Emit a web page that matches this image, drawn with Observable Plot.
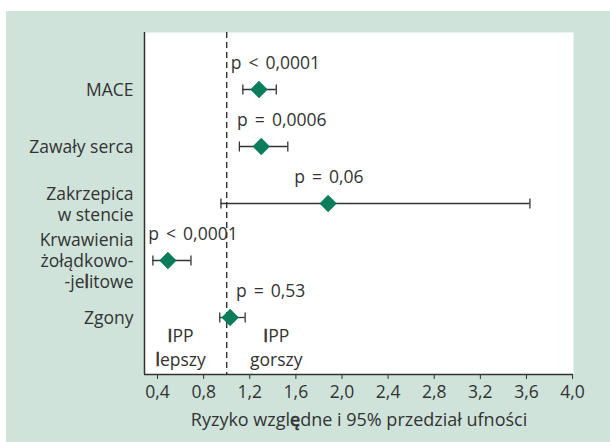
<!DOCTYPE html>
<html>
<head>
<meta charset="utf-8">
<script src="https://cdn.jsdelivr.net/npm/d3@7"></script>
<script src="https://cdn.jsdelivr.net/npm/@observablehq/plot@0.6"></script>
<style>
  html, body { margin: 0; padding: 0; background: #ffffff; }
  #wrap { position: relative; width: 610px; height: 442px; overflow: hidden; }
  #bg { position: absolute; left: 6px; top: 11px; width: 604px; height: 431px; background: #cfe3da; }
  #chart { position: absolute; left: 0; top: 0; }
</style>
</head>
<body>
<div id="wrap"><div id="bg"></div><div id="chart"></div></div>
<script>
// ---- data ----
const categories = ["MACE", "Zawały serca", "Zakrzepica\nw stencie", "Krwawienia\nżołądkowo-\n-jelitowe", "Zgony"];
const riskRatio = [1.28, 1.30, 1.88, 0.49, 1.03];
const ciLow     = [1.14, 1.11, 0.95, 0.36, 0.94];
const ciHigh    = [1.43, 1.53, 3.63, 0.69, 1.16];
const pLabels   = ["p < 0,0001", "p = 0,0006", "p = 0,06", "p < 0,0001", "p = 0,53"];
const pLabelX   = [1.035, 1.09, 1.585, 0.32, 1.08];
const xTicks    = [0.4, 0.8, 1.2, 1.6, 2.0, 2.4, 2.8, 3.2, 3.6, 4.0];
const noteLabels = ["IPP\nlepszy", "IPP\ngorszy"];
const noteX      = [0.6, 1.43];
const axisTitle  = "Ryzyko względne i 95% przedział ufności";
const xDomain = [0.287, 4.008];
const refValue = 1;

const rows = categories.map((c, i) => ({
  cat: c, row: i, rr: riskRatio[i], lo: ciLow[i], hi: ciHigh[i], p: pLabels[i], px: pLabelX[i]
}));
const notes = noteLabels.map((t, i) => ({text: t, x: noteX[i], row: 4.5}));

const capSymbol = {
  draw(ctx, size) {
    const h = Math.sqrt(size / Math.PI);
    ctx.moveTo(0, -h);
    ctx.lineTo(0, h);
  }
};

const ink = "#333333";
const green = "#0b7d5a";
const fs = 17.5;

const chart = Plot.plot({
  width: 610,
  height: 442,
  marginLeft: 144,
  marginRight: 37,
  marginTop: 32,
  marginBottom: 68,
  style: {background: "transparent", fontFamily: "'Open Sans', sans-serif", fontSize: fs + "px", color: ink},
  x: {domain: xDomain},
  y: {domain: [-1, 5], reverse: true, axis: null},
  marks: [
    Plot.frame({fill: "white", stroke: null}),
    Plot.ruleX([refValue], {stroke: ink, strokeWidth: 1.4, strokeDasharray: "6,4"}),
    Plot.ruleX([xDomain[0]], {stroke: ink, strokeWidth: 1.5}),
    Plot.ruleY([5], {stroke: ink, strokeWidth: 1.5}),
    Plot.axisX({ticks: xTicks, tickSize: 5, tickPadding: 6, tickFormat: d => d.toFixed(1).replace(".", ","), fontSize: fs, label: null, stroke: ink, fill: ink}),
    Plot.ruleY(rows, {y: "row", x1: "lo", x2: "hi", stroke: ink, strokeWidth: 1.3}),
    Plot.dot(rows, {x: "lo", y: "row", symbol: capSymbol, r: 5, stroke: ink, fill: "none", strokeWidth: 1.3}),
    Plot.dot(rows, {x: "hi", y: "row", symbol: capSymbol, r: 5, stroke: ink, fill: "none", strokeWidth: 1.3}),
    Plot.dot(rows, {x: "rr", y: "row", symbol: "diamond2", r: 7.6, fill: green, stroke: green, strokeWidth: 0.5}),
    Plot.text(rows, {x: "px", y: "row", text: "p", dy: -26, textAnchor: "start", fill: ink, fontSize: fs}),
    Plot.text(rows, {y: "row", text: "cat", frameAnchor: "left", dx: -11, textAnchor: "end", lineHeight: 1.2, fill: ink, fontSize: fs}),
    Plot.text(notes, {x: "x", y: "row", text: "text", lineHeight: 1.37, fill: ink, fontSize: fs}),
    Plot.text([axisTitle], {frameAnchor: "bottom", dy: 51, fill: ink, fontSize: 18})
  ]
});
document.getElementById("chart").appendChild(chart);

// wider spacing around the relational signs, as typeset in the original
chart.querySelectorAll("text").forEach(node => {
  if (pLabels.includes(node.textContent)) node.setAttribute("word-spacing", "2.5px");
});

// reproduce the slightly emphasised letters of the original typesetting
function emphasize(str, index) {
  chart.querySelectorAll("text, tspan").forEach(node => {
    if (node.children.length === 0 && node.textContent === str) {
      const before = str.slice(0, index), ch = str[index], after = str.slice(index + 1);
      node.textContent = "";
      if (before) node.appendChild(document.createTextNode(before));
      const b = document.createElementNS("http://www.w3.org/2000/svg", "tspan");
      b.setAttribute("stroke", ink);
      b.setAttribute("stroke-width", "0.7");
      b.textContent = ch;
      node.appendChild(b);
      if (after) node.appendChild(document.createTextNode(after));
    }
  });
}
emphasize("IPP", 0);
emphasize("lepszy", 0);
emphasize("-jelitowe", 3);
emphasize(axisTitle, 11);
</script>
</body>
</html>
